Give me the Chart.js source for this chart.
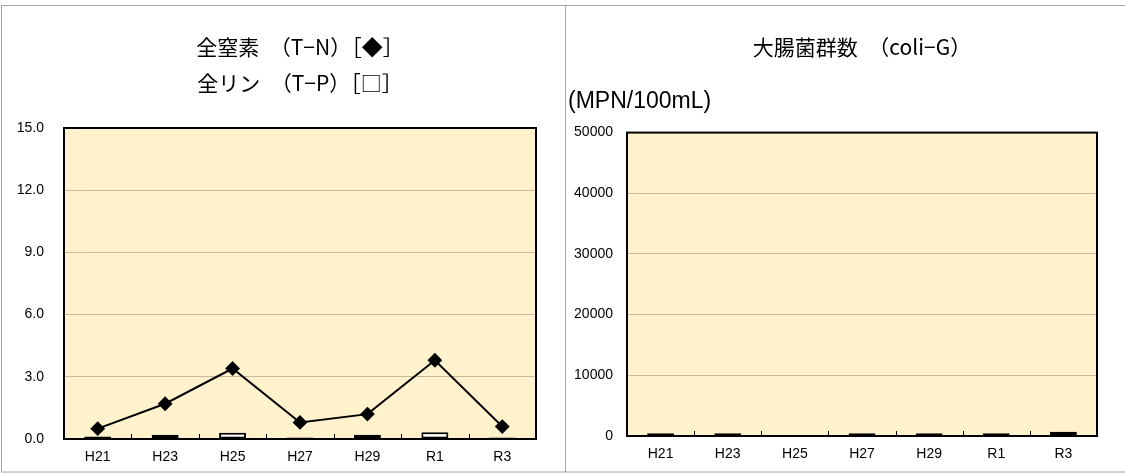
<!DOCTYPE html>
<html>
<head>
<meta charset="utf-8">
<script src="https://cdn.jsdelivr.net/npm/chart.js@4.4.1/dist/chart.umd.min.js"></script>
<style>
    html, body { margin: 0; padding: 0; background: #ffffff; }
    body { width: 1125px; height: 473px; position: relative; overflow: hidden; }
    .frame { position: absolute; left: 1px; top: 5px; width: 1130px; height: 465px;
             border-top: 1px solid #a6a6a6; border-left: 1px solid #a6a6a6;
             border-bottom: 2px solid #d0d0d0; }
    .divider { position: absolute; left: 565px; top: 5px; width: 1px; height: 467px; background: #a6a6a6; }
    .panel { position: absolute; top: 6px; height: 465px; }
    #left-panel { left: 2px; width: 562px; }
    #right-panel { left: 566px; width: 559px; }
</style>
</head>
<body>
<div class="frame"></div>
<div class="divider"></div>
<div class="panel" id="left-panel"><canvas id="nutrientChart" width="562" height="465"></canvas></div>
<div class="panel" id="right-panel"><canvas id="coliChart" width="559" height="465"></canvas></div>

<script>
/* ========================================
   Water quality charts (T-N / T-P, coli-G)
   ======================================== */

const years = ['H21', 'H23', 'H25', 'H27', 'H29', 'R1', 'R3'];

// 全窒素 (T-N) mg/L, diamonds
const totalNitrogen = [0.5, 1.7, 3.4, 0.8, 1.2, 3.8, 0.6];
// 全リン (T-P) mg/L, white bars
const totalPhosphorus = [0.12, 0.2, 0.3, 0.07, 0.2, 0.33, 0.07];
// 大腸菌群数 MPN/100mL
const coliforms = [450, 450, 0, 450, 450, 450, 700];

const nutrientTicks = [0, 3, 6, 9, 12, 15];
const coliTicks = [0, 10000, 20000, 30000, 40000, 50000];

const PLOT_BG = '#fff2cc';
const GRID_COLOR = '#c8b99c';
const TICK_FONT = { family: '"Liberation Sans", Arial, sans-serif', size: 14 };
const TITLE_FONT = { family: '"Noto Sans CJK JP", sans-serif', size: 21, weight: 'normal', lineHeight: 1.7 };

// plot area background, frame and the little upward ticks between categories
const plotFrame = {
    id: 'plotFrame',
    beforeDraw(chart) {
        const { ctx, chartArea: a } = chart;
        ctx.save();
        ctx.fillStyle = PLOT_BG;
        ctx.fillRect(a.left, a.top, a.right - a.left, a.bottom - a.top);
        ctx.restore();
    },
    afterDatasetsDraw(chart) {
        const { ctx, chartArea: a } = chart;
        const x = chart.scales.x;
        ctx.save();
        ctx.strokeStyle = '#000000';
        ctx.lineWidth = 1;
        for (let i = 1; i < chart.data.labels.length; i++) {
            const px = Math.round((x.getPixelForValue(i - 1) + x.getPixelForValue(i)) / 2) + 0.5;
            ctx.beginPath();
            ctx.moveTo(px, a.bottom);
            ctx.lineTo(px, a.bottom - 5);
            ctx.stroke();
        }
        ctx.lineWidth = 2;
        ctx.strokeRect(a.left, a.top, a.right - a.left, a.bottom - a.top);
        ctx.restore();
    }
};

function fixedTicks(values) {
    return function(scale) {
        scale.ticks = values.map(v => ({ value: v }));
    };
}

function buildScales(opts) {
    return {
        x: {
            offset: true,
            grid: { display: false, drawTicks: false },
            border: { display: false },
            ticks: { color: '#000000', font: TICK_FONT, padding: 10, maxRotation: 0 },
            afterFit: s => { s.height = opts.xHeight; }
        },
        y: {
            min: opts.ticks[0],
            max: opts.ticks[opts.ticks.length - 1],
            afterBuildTicks: fixedTicks(opts.ticks),
            grid: { color: GRID_COLOR, lineWidth: 1, drawTicks: false },
            border: { display: false },
            ticks: {
                color: '#000000',
                font: TICK_FONT,
                padding: opts.tickPad,
                callback: opts.format
            },
            afterFit: s => { s.width = opts.yWidth; }
        }
    };
}

const barStyle = {
    backgroundColor: '#ffffff',
    borderColor: '#000000',
    borderWidth: 2,
    borderSkipped: false,
    categoryPercentage: 1.0,
    barPercentage: 0.4
};

new Chart(document.getElementById('nutrientChart'), {
    data: {
        labels: years,
        datasets: [
            {
                type: 'line',
                label: 'T-N',
                data: totalNitrogen,
                borderColor: '#000000',
                borderWidth: 2,
                pointStyle: 'rectRot',
                pointRadius: 6,
                pointBackgroundColor: '#000000',
                pointBorderColor: '#000000',
                tension: 0,
                order: 0
            },
            Object.assign({ type: 'bar', label: 'T-P', data: totalPhosphorus, order: 1 }, barStyle)
        ]
    },
    options: {
        responsive: false,
        animation: false,
        layout: { padding: { left: 0, right: 28, top: 0, bottom: 0 } },
        plugins: {
            legend: { display: false },
            tooltip: { enabled: false },
            title: {
                display: true,
                fullSize: false,
                text: ['全窒素　（T−N）［◆］', '全リン　（T−P）［□］'],
                color: '#000000',
                font: TITLE_FONT,
                padding: { top: 23, bottom: 27.6 }
            }
        },
        scales: buildScales({
            ticks: nutrientTicks,
            format: v => Number(v).toFixed(1),
            yWidth: 62,
            xHeight: 32,
            tickPad: 20
        })
    },
    plugins: [plotFrame]
});

new Chart(document.getElementById('coliChart'), {
    data: {
        labels: years,
        datasets: [
            Object.assign({ type: 'bar', label: 'coli-G', data: coliforms }, barStyle)
        ]
    },
    options: {
        responsive: false,
        animation: false,
        layout: { padding: { left: 2, right: 28, top: 0, bottom: 0 } },
        plugins: {
            legend: { display: false },
            tooltip: { enabled: false },
            title: {
                display: true,
                fullSize: false,
                text: '大腸菌群数　（coli−G）',
                color: '#000000',
                font: TITLE_FONT,
                padding: { top: 23, bottom: 0 }
            },
            subtitle: {
                display: true,
                align: 'start',
                text: '(MPN/100mL)',
                color: '#000000',
                font: { family: '"Liberation Sans", Arial, sans-serif', size: 23, lineHeight: 1.2 },
                padding: { top: 23, bottom: 17.3 }
            }
        },
        scales: buildScales({
            ticks: coliTicks,
            format: v => String(v),
            yWidth: 59,
            xHeight: 35,
            tickPad: 14
        })
    },
    plugins: [plotFrame]
});
</script>
</body>
</html>
